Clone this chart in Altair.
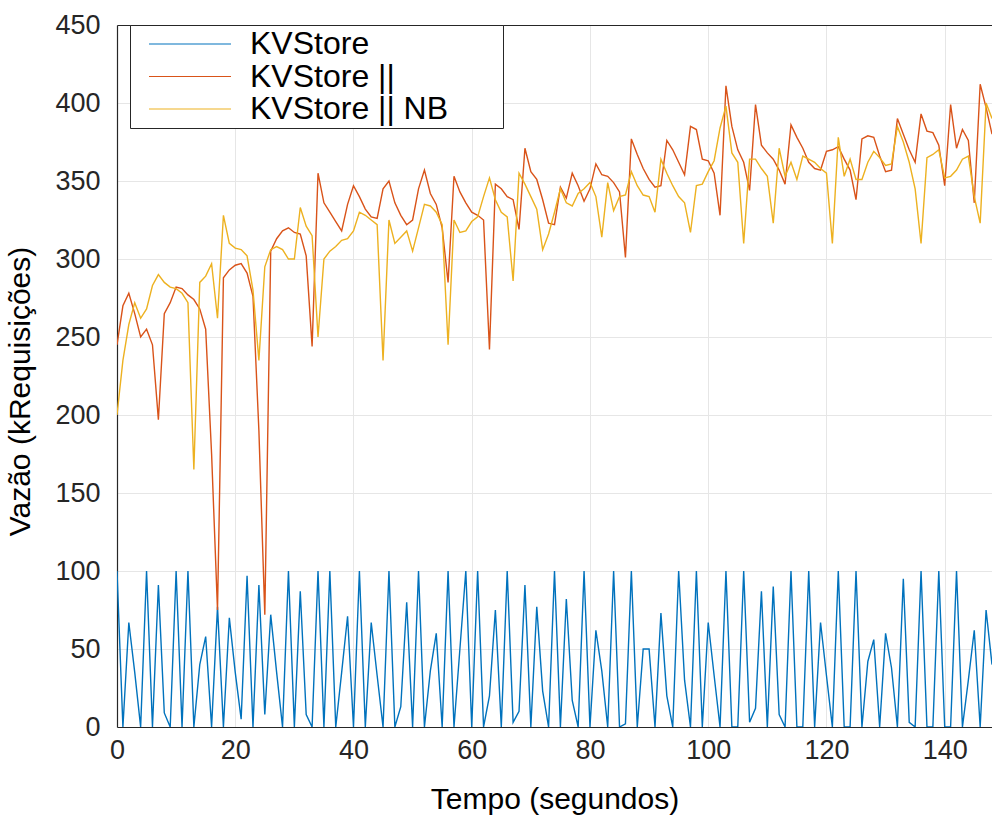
import altair as alt
import pandas as pd

# time in seconds
tempo = list(range(149))

kvstore = [
    100, 0, 67, 35, 0, 100, 0, 91, 9, 0,
    100, 0, 100, 0, 40, 58, 0, 77, 0, 70,
    35, 5, 97, 0, 91, 8, 72, 35, 0, 100,
    0, 87, 8, 0, 100, 0, 100, 0, 35, 71,
    0, 100, 0, 67, 33, 0, 100, 0, 13, 80,
    0, 100, 0, 36, 60, 0, 100, 0, 50, 100,
    0, 100, 0, 20, 75, 0, 100, 3, 10, 91,
    0, 77, 23, 0, 100, 0, 82, 17, 0, 100,
    0, 62, 36, 0, 100, 0, 2, 100, 0, 50,
    50, 0, 73, 20, 0, 100, 30, 0, 100, 0,
    67, 33, 0, 100, 0, 0, 100, 3, 12, 87,
    0, 90, 8, 0, 100, 0, 0, 100, 0, 67,
    33, 0, 100, 0, 0, 100, 0, 42, 56, 0,
    60, 38, 0, 95, 3, 0, 100, 0, 0, 100,
    0, 0, 100, 0, 30, 62, 0, 75, 40,
]

kvstore_par = [
    245, 270, 278, 265, 250, 255, 245, 197, 265, 272,
    282, 281, 277, 274, 268, 255, 175, 75, 288, 293,
    296, 297, 291, 276, 190, 72, 305, 313, 318, 320,
    317, 316, 302, 244, 355, 336, 330, 324, 318, 335,
    347, 340, 332, 327, 326, 345, 350, 336, 328, 322,
    325, 345, 357, 342, 335, 320, 285, 353, 343, 336,
    330, 328, 325, 242, 348, 345, 340, 338, 319, 371,
    356, 351, 338, 323, 322, 346, 339, 355, 347, 337,
    345, 361, 354, 353, 349, 343, 301, 377, 367, 358,
    351, 346, 347, 376, 370, 362, 354, 385, 383, 364,
    363, 355, 328, 411, 385, 370, 362, 344, 399, 373,
    368, 364, 357, 348, 386, 378, 371, 362, 358, 357,
    369, 370, 372, 364, 357, 338, 377, 379, 378, 366,
    356, 357, 390, 380, 370, 362, 393, 382, 381, 373,
    347, 399, 371, 383, 376, 336, 412, 397, 380,
]

kvstore_par_nb = [
    200, 235, 258, 272, 262, 268, 283, 290, 285, 282,
    281, 278, 272, 165, 285, 289, 297, 262, 328, 310,
    307, 306, 302, 280, 235, 295, 306, 308, 306, 300,
    300, 333, 321, 315, 250, 300, 305, 308, 312, 313,
    318, 330, 328, 325, 322, 235, 325, 310, 314, 318,
    305, 320, 335, 334, 330, 322, 245, 325, 317, 318,
    324, 327, 340, 352, 338, 330, 327, 286, 355, 348,
    340, 332, 306, 316, 330, 345, 336, 334, 342, 345,
    349, 340, 314, 349, 331, 340, 341, 356, 347, 341,
    340, 330, 364, 355, 347, 340, 336, 317, 347, 348,
    356, 363, 384, 398, 368, 362, 310, 364, 364, 358,
    353, 323, 371, 353, 362, 351, 366, 364, 362, 358,
    355, 310, 378, 353, 364, 351, 351, 362, 369, 365,
    360, 361, 385, 375, 362, 345, 310, 365, 367, 370,
    352, 353, 357, 364, 366, 340, 323, 400, 390,
]

series_names = ["KVStore", "KVStore ||", "KVStore || NB"]
series_colors = ["#0072BD", "#D95319", "#EDB120"]
x_ticks = [0, 20, 40, 60, 80, 100, 120, 140]
y_ticks = [0, 50, 100, 150, 200, 250, 300, 350, 400, 450]

n = len(tempo)
df = pd.DataFrame({
    "t": tempo * 3,
    "v": kvstore + kvstore_par + kvstore_par_nb,
    "s": [series_names[0]] * n + [series_names[1]] * n + [series_names[2]] * n,
})

FONT = "Liberation Sans"
INK = "#262626"

x_scale = alt.Scale(domain=[0, 148], nice=False, zero=False)
y_scale = alt.Scale(domain=[0, 450], nice=False)

lines = alt.Chart(df).mark_line(strokeWidth=1.4, clip=True).encode(
    x=alt.X("t:Q", scale=x_scale,
            axis=alt.Axis(values=x_ticks, title="Tempo (segundos)", orient="bottom",
                          labelFlush=False, labelPadding=10, titlePadding=21)),
    y=alt.Y("v:Q", scale=y_scale,
            axis=alt.Axis(values=y_ticks, title="Vazão (kRequisições)",
                          labelFlush=False, labelPadding=17, titlePadding=19,
                          titleY=366)),
    color=alt.Color(
        "s:N",
        scale=alt.Scale(domain=series_names, range=series_colors),
        legend=alt.Legend(
            title=None, orient="none", legendX=13, legendY=0,
            symbolType="M-4,0H4M30,0", symbolSize=420, symbolStrokeWidth=1.2,
            symbolOffset=41, labelOffset=44,
            labelFont=FONT, labelFontSize=32, labelColor="#000000", labelLimit=500,
            rowPadding=0.5, padding=3,
            strokeColor=INK, fillColor="white",
        ),
    ),
)

top_frame = alt.Chart(pd.DataFrame({"t": [0]})).mark_point(opacity=0).encode(
    x=alt.X("t:Q", scale=x_scale,
            axis=alt.Axis(orient="top", labels=False, ticks=False, grid=False,
                          title=None, domainColor=INK, domainWidth=1.2)),
)

chart = alt.layer(lines, top_frame).resolve_axis(x="independent").properties(
    width=875, height=702,
    background="white",
    autosize=alt.AutoSizeParams(type="none"),
    padding={"left": 117, "top": 25, "right": 0, "bottom": 90},
).configure_view(stroke=None).configure_axis(
    domainColor=INK, domainWidth=1.2, ticks=False,
    gridColor="#e6e6e6", gridWidth=1,
    labelFont=FONT, labelFontSize=27, labelColor=INK,
    titleFont=FONT, titleFontSize=30, titleFontWeight="normal", titleColor="#000000",
)

chart.save("out.html", embed_options={"renderer": "svg", "actions": False})
